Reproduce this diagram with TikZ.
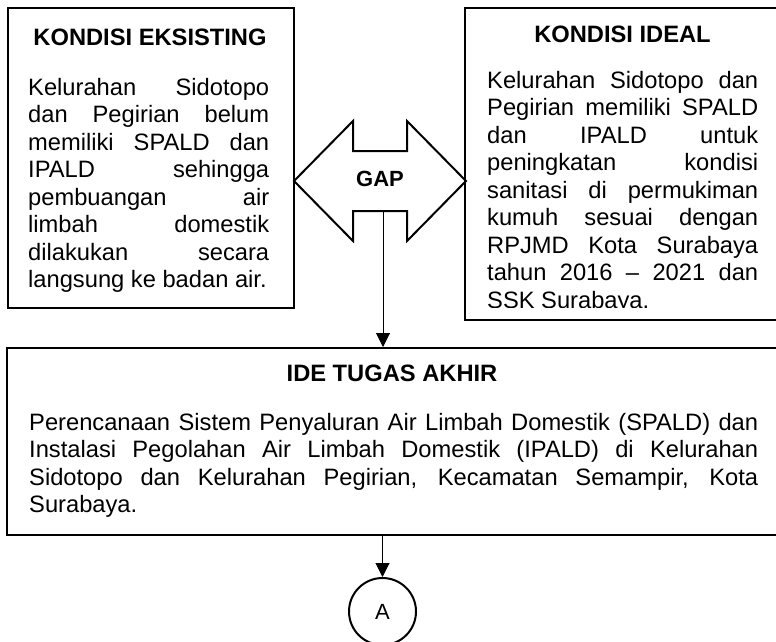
\documentclass[tikz,border=0pt]{standalone}
\usepackage{fontspec}
\setmainfont{Liberation Sans}
\usetikzlibrary{arrows.meta}
\newcommand\jl[1]{\makebox[\linewidth][s]{#1}\par}
\newcommand\bodyfont{\fontsize{23.7pt}{27.5pt}\selectfont}
\newcommand\botfont{\fontsize{23.7pt}{27.6pt}\selectfont}
\begin{document}
\begin{tikzpicture}[x=1pt,y=-1pt,
  box/.style={draw, line width=2.2pt, inner sep=0pt, anchor=north west},
  txt/.style={inner sep=0pt, anchor=base west, font=\bodyfont},
  ttl/.style={inner sep=0pt, anchor=base, font=\bodyfont\bfseries},
  arr/.style={line width=1pt, -{Triangle[length=14pt,width=14pt]}}]
\clip (0,0) rectangle (776,641);
% left box
\node[box, minimum width=286pt, minimum height=300pt] (eks) at (7,7) {};
\node[ttl] (eksT) at (150,45) {KONDISI EKSISTING};
\node[txt] (eksB) at (28,95) {\parbox[t]{241pt}{%
\jl{Kelurahan Sidotopo}%
\jl{dan Pegirian belum}%
\jl{memiliki SPALD dan}%
\jl{IPALD sehingga}%
\jl{pembuangan air}%
\jl{limbah domestik}%
\jl{dilakukan secara}%
langsung ke badan air.}};
% right box
\node[box, minimum width=316pt, minimum height=312pt] (ide0) at (464,7) {};
\node[ttl] (ideT) at (622.5,42) {KONDISI IDEAL};
\begin{scope}
\clip (460,0) rectangle (790,307.5);
\node[txt] (ideB) at (487,88) {\parbox[t]{271pt}{%
\jl{Kelurahan Sidotopo dan}%
\jl{Pegirian memiliki SPALD}%
\jl{dan IPALD untuk}%
\jl{peningkatan kondisi}%
\jl{sanitasi di permukiman}%
\jl{kumuh sesuai dengan}%
\jl{RPJMD Kota Surabaya}%
\jl{tahun 2016 – 2021 dan}%
SSK Surabaya.}};
\end{scope}
% GAP double arrow
\draw[line width=2pt, miter limit=10] (294,181) -- (353,121) -- (353,151) -- (407,151) -- (407,121)
  -- (466,181) -- (407,241) -- (407,211) -- (353,211) -- (353,241) -- cycle;
\node[inner sep=0pt, anchor=base, font=\fontsize{22pt}{26pt}\selectfont\bfseries] (gap) at (380,186) {GAP};
\coordinate (gapb) at (383,211);
% bottom box
\node[box, minimum width=773pt, minimum height=187pt] (ta) at (6,347) {};
\node[ttl] (taT) at (392,381) {IDE TUGAS AKHIR};
\node[txt, font=\botfont] (taB) at (29,430) {\parbox[t]{729pt}{%
\jl{Perencanaan Sistem Penyaluran Air Limbah Domestik (SPALD) dan}%
\jl{Instalasi Pegolahan Air Limbah Domestik (IPALD) di Kelurahan}%
\jl{Sidotopo dan Kelurahan Pegirian, Kecamatan Semampir, Kota}%
Surabaya.}};
% circle A
\node[draw, circle, line width=2pt, minimum size=67pt, inner sep=0pt,
  font=\fontsize{22pt}{26pt}\selectfont] (A) at (382.5,611.5) {A};
% connectors
\draw[arr] (gapb) -- (gapb |- ta.north);
\draw[arr] (ta.south -| A.north) -- (A.north);
\end{tikzpicture}
\end{document}
